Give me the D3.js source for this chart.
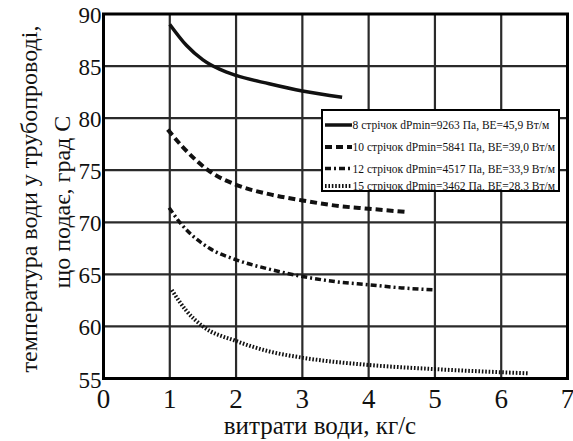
<!DOCTYPE html>
<html>
<head>
<meta charset="utf-8">
<script src="https://cdn.jsdelivr.net/npm/d3@7"></script>
<style>
  body { margin: 0; background: #fff; }
  text { font-family: "Liberation Serif", "Times New Roman", serif; fill: #111; }
</style>
</head>
<body>
<svg width="573" height="441"></svg>
<script>
// values: [витрати, температура]
let s8  = [[1,89.0],[1.25,87.0],[1.5,85.6],[1.75,84.7],[2,84.1],[2.5,83.3],[3,82.6],[3.6,82.0]];
let s10 = [[0.97,78.9],[1.2,77.2],[1.6,74.9],[2,73.6],[2.5,72.7],[3,72.1],[3.5,71.6],[4,71.3],[4.55,71.0]];
let s12 = [[0.99,71.4],[1.15,70.0],[1.6,67.5],[2,66.4],[2.5,65.5],[3,64.8],[3.5,64.3],[4,64.0],[4.5,63.7],[5,63.5]];
let s15 = [[1.03,63.5],[1.25,61.5],[1.5,60.0],[2,58.6],[2.5,57.6],[3,57.0],[4,56.3],[5,55.9],[6,55.6],[6.4,55.5]];

let seriesNames = [
  "8 стрічок dPmin=9263 Па, ВЕ=45,9 Вт/м",
  "10 стрічок dPmin=5841 Па, ВЕ=39,0 Вт/м",
  "12 стрічок dPmin=4517 Па, ВЕ=33,9 Вт/м",
  "15 стрічок dPmin=3462 Па, ВЕ=28,3 Вт/м"
];
let xTicks = [0,1,2,3,4,5,6,7];
let yTicks = [55,60,65,70,75,80,85,90];

let svg = d3.select("svg");

let x = d3.scaleLinear().domain([0, 7]).range([103.5, 567.5]);
let y = d3.scaleLinear().domain([55, 90]).range([378.5, 14]);

// grid
svg.append("g").selectAll("line")
  .data(xTicks.slice(1, -1))
  .enter().append("line")
    .attr("x1", d => x(d)).attr("x2", d => x(d))
    .attr("y1", y(90)).attr("y2", y(55))
    .attr("stroke", "#2a2a2a").attr("stroke-width", 2.2);

svg.append("g").selectAll("line")
  .data(yTicks.slice(1, -1))
  .enter().append("line")
    .attr("x1", x(0)).attr("x2", x(7))
    .attr("y1", d => y(d)).attr("y2", d => y(d))
    .attr("stroke", "#2a2a2a").attr("stroke-width", 2.2);

svg.append("rect")
  .attr("x", x(0)).attr("y", y(90))
  .attr("width", x(7) - x(0)).attr("height", y(55) - y(90))
  .attr("fill", "none").attr("stroke", "#000").attr("stroke-width", 3);

// tick labels
svg.append("g").selectAll("text")
  .data(yTicks)
  .enter().append("text")
    .attr("x", x(0) - 2)
    .attr("y", d => y(d) + 9)
    .attr("text-anchor", "end")
    .attr("font-size", 23)
    .text(d => d);

svg.append("g").selectAll("text")
  .data(xTicks)
  .enter().append("text")
    .attr("x", d => x(d))
    .attr("y", 408)
    .attr("text-anchor", "middle")
    .attr("font-size", 27)
    .text(d => d);

// axis titles
svg.append("text")
  .attr("x", 320).attr("y", 434)
  .attr("text-anchor", "middle")
  .attr("font-size", 25)
  .text("витрати води, кг/с");

svg.append("text")
  .attr("transform", "translate(37,199) rotate(-90)")
  .attr("text-anchor", "middle")
  .attr("font-size", 24)
  .text("температура води у трубопроводі,");

svg.append("text")
  .attr("transform", "translate(70,202) rotate(-90)")
  .attr("text-anchor", "middle")
  .attr("font-size", 24)
  .text("що подає, град С");

// curves
let line = d3.line()
  .x(d => x(d[0]))
  .y(d => y(d[1]))
  .curve(d3.curveMonotoneX);

let styles = [
  {w: 3.5, dash: null},
  {w: 4, dash: "7,4"},
  {w: 3.5, dash: "6,3,2,3"},
  {w: 4, dash: "1.6,1.8"}
];

[s8, s10, s12, s15].forEach(function(s, i) {
  svg.append("path")
    .datum(s)
    .attr("d", line)
    .attr("fill", "none")
    .attr("stroke", "#111")
    .attr("stroke-width", styles[i].w)
    .attr("stroke-dasharray", styles[i].dash);
});

// legend
let lg = svg.append("g");
let box = {x: 322, y: 110, w: 237, h: 81};
svg.append("clipPath").attr("id", "lgclip")
  .append("rect")
    .attr("x", box.x).attr("y", box.y)
    .attr("width", box.w).attr("height", box.h);

lg.append("rect")
  .attr("x", box.x).attr("y", box.y)
  .attr("width", box.w).attr("height", box.h)
  .attr("fill", "#fff");

let rowY = [125, 147, 168.5, 186];
let rows = lg.append("g").attr("clip-path", "url(#lgclip)")
  .selectAll("g")
  .data(seriesNames)
  .enter().append("g");

rows.append("line")
  .attr("x1", 325).attr("x2", 352)
  .attr("y1", (d, i) => rowY[i]).attr("y2", (d, i) => rowY[i])
  .attr("stroke", "#111")
  .attr("stroke-width", (d, i) => styles[i].w)
  .attr("stroke-dasharray", (d, i) => styles[i].dash);

rows.append("text")
  .attr("x", 352.5)
  .attr("y", (d, i) => rowY[i] + 4)
  .attr("font-size", 11.5)
  .text(d => d);

lg.append("rect")
  .attr("x", box.x).attr("y", box.y)
  .attr("width", box.w).attr("height", box.h)
  .attr("fill", "none").attr("stroke", "#000").attr("stroke-width", 2);
</script>
</body>
</html>
